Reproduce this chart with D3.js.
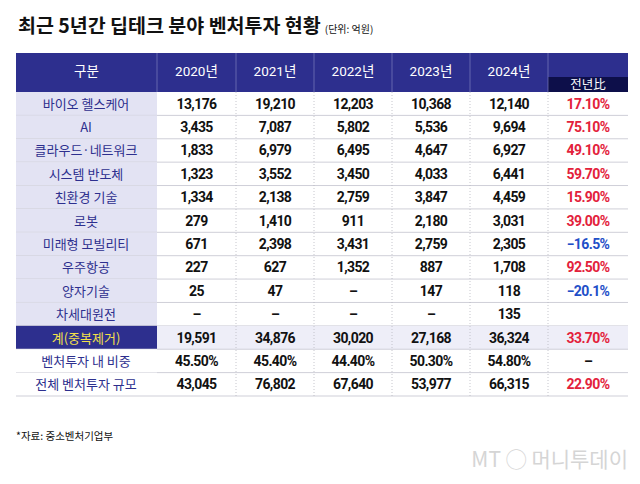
<!DOCTYPE html>
<html><head><meta charset="utf-8">
<script src="https://cdn.jsdelivr.net/npm/d3@7"></script>
<style>body{margin:0;background:#fff}svg{font-family:"Noto Sans CJK KR",sans-serif}</style>
</head><body><svg id="c" width="640" height="484"></svg>
<script>
const years = ['2020년','2021년','2022년','2023년','2024년'];
const categories = ['바이오 헬스케어','AI','클라우드·네트워크','시스템 반도체','친환경 기술','로봇','미래형 모빌리티','우주항공','양자기술','차세대원전','계(중복제거)','벤처투자 내 비중','전체 벤처투자 규모'];
const values = [
  ['13,176','19,210','12,203','10,368','12,140'],
  ['3,435','7,087','5,802','5,536','9,694'],
  ['1,833','6,979','6,495','4,647','6,927'],
  ['1,323','3,552','3,450','4,033','6,441'],
  ['1,334','2,138','2,759','3,847','4,459'],
  ['279','1,410','911','2,180','3,031'],
  ['671','2,398','3,431','2,759','2,305'],
  ['227','627','1,352','887','1,708'],
  ['25','47','–','147','118'],
  ['–','–','–','–','135'],
  ['19,591','34,876','30,020','27,168','36,324'],
  ['45.50%','45.40%','44.40%','50.30%','54.80%'],
  ['43,045','76,802','67,640','53,977','66,315']
];
const yoy = ['17.10%','75.10%','49.10%','59.70%','15.90%','39.00%','-16.5%','92.50%','-20.1%','','33.70%','–','22.90%'];

const svg = d3.select('#c');
const navy = '#2d2f8e', lav = '#e3e3f3';
const cols = ['구분', ...years, '전년比'];
const edges = [16,157,236,314,392,470,548,628];
const x = d3.scaleOrdinal().domain(cols).range(edges.slice(0,-1));
const w = c => edges[cols.indexOf(c)+1] - edges[cols.indexOf(c)];
const y = d3.scaleBand().domain(categories).range([92,396]);

svg.append('text').attr('x',18).attr('y',33).attr('font-size',19.5).attr('font-weight',700).attr('fill','#111')
  .text('최근 5년간 딥테크 분야 벤처투자 현황')
  .append('tspan').attr('font-size',10).attr('font-weight',400).attr('dx',4).text('(단위: 억원)');

// header
svg.append('rect').attr('x',16).attr('y',53).attr('width',612).attr('height',39).attr('fill',navy);
svg.append('rect').attr('x',548).attr('y',77).attr('width',80).attr('height',15).attr('fill','#0d0f4a');
cols.forEach((c,i) => {
  if (i>0) svg.append('line').attr('x1',x(c)).attr('x2',x(c)).attr('y1',53).attr('y2',92).attr('stroke','#8a8cc8').attr('stroke-width',0.6);
  svg.append('text').attr('x',x(c)+w(c)/2).attr('y',c==='전년比'?89:76).attr('text-anchor','middle')
    .attr('font-size',c==='전년比'?12.5:13.5).attr('fill','#fff').attr('font-family','Roboto,"Noto Sans CJK KR"').text(c);
});

// rows
categories.forEach((cat,r) => {
  const y0 = y(cat), h = y.bandwidth(), isSum = r===10;
  svg.append('rect').attr('x',16).attr('y',y0).attr('width',141).attr('height',h)
    .attr('fill', isSum ? navy : (r>10 ? '#fff' : lav));
  if (isSum) svg.append('rect').attr('x',157).attr('y',y0).attr('width',471).attr('height',h).attr('fill','#eeeef8');
  svg.append('text').attr('x',86).attr('y',y0+h/2+5).attr('text-anchor','middle').attr('font-size',13)
    .attr('fill', isSum ? '#f3e04a' : navy).text(cat);
  years.forEach((yr,i) => {
    svg.append('text').attr('x',x(yr)+w(yr)/2).attr('y',y0+h/2+5).attr('text-anchor','middle')
      .attr('font-size',14).attr('font-weight',700).attr('letter-spacing',-0.6).attr('fill','#111')
      .attr('font-family','Roboto,sans-serif').text(values[r][i]);
  });
  const v = yoy[r];
  svg.append('text').attr('x',588).attr('y',y0+h/2+5).attr('text-anchor','middle')
    .attr('font-size',14).attr('font-weight',700).attr('letter-spacing',-0.6).attr('font-family','Roboto,sans-serif')
    .attr('fill', v.startsWith('-') ? '#1f4fc8' : (v==='–' ? '#111' : '#e3213b'))
    .text(v.replace('-','−'));
  svg.append('line').attr('x1',16).attr('x2',628).attr('y1',y0+h).attr('y2',y0+h)
    .attr('stroke','#cfcfd8').attr('stroke-width',1);
});
edges.slice(2,-1).forEach(e => svg.append('line').attr('x1',e).attr('x2',e).attr('y1',92).attr('y2',396)
  .attr('stroke','#b8b8c0').attr('stroke-dasharray','1,2').attr('stroke-width',0.8));

svg.append('text').attr('x',16).attr('y',440).attr('font-size',10.5).attr('fill','#111').text('*자료: 중소벤처기업부');
svg.append('text').attr('x',628).attr('y',467).attr('text-anchor','end').attr('font-size',21).attr('fill','#d5d5d5')
  .text('MT ◯ 머니투데이');
</script></body></html>
